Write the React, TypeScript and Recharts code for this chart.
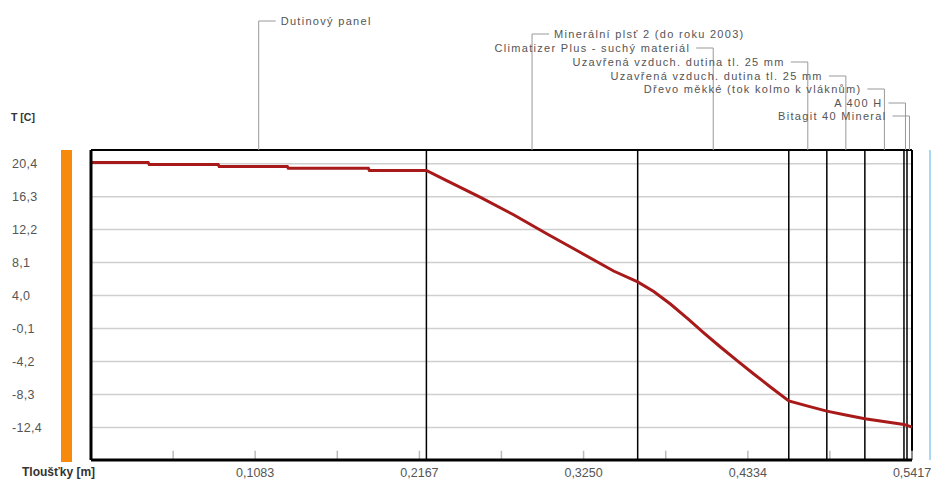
import React from "react";
import {
  CartesianGrid,
  Line,
  LineChart,
  ReferenceLine,
  XAxis,
  YAxis
} from "recharts";

// temperature profile through the wall: thickness [m] -> T [C]
const thickness = [
  0, 0.0377, 0.0384, 0.0839, 0.0846, 0.1295, 0.1302, 0.183, 0.1837, 0.2213,
  0.235, 0.257, 0.2788, 0.301, 0.323, 0.3448, 0.3607,
  0.3713, 0.3825, 0.3937, 0.4043, 0.4155, 0.4267, 0.4373, 0.4485, 0.4604,
  0.473, 0.4855, 0.498, 0.5106, 0.5364, 0.5384, 0.5417
];
const temperature = [
  20.56, 20.56, 20.31, 20.31, 20.06, 20.06, 19.82, 19.82, 19.55, 19.55,
  18.25, 16.2, 14.05, 11.65, 9.35, 7.05, 5.7,
  4.51, 2.92, 1.12, -0.63, -2.43, -4.16, -5.75, -7.4, -9.1,
  -9.75, -10.37, -10.85, -11.32, -12.03, -12.15, -12.36
];

// layers of the construction and their boundaries
const layerNames = [
  "Dutinový panel",
  "Minerální plsť 2 (do roku 2003)",
  "Climatizer Plus - suchý materiál",
  "Uzavřená vzduch. dutina tl. 25 mm",
  "Uzavřená vzduch. dutina tl. 25 mm",
  "Dřevo měkké (tok kolmo k vláknům)",
  "A 400 H",
  "Bitagit 40 Mineral"
];
const layerBounds = [0, 0.2213, 0.3607, 0.4604, 0.4855, 0.5106, 0.5364, 0.5384, 0.5417];

const yTicks = [20.4, 16.3, 12.2, 8.1, 4.0, -0.1, -4.2, -8.3, -12.4];
const xTicks = [0.0542, 0.1083, 0.1625, 0.2167, 0.2708, 0.325, 0.3792, 0.4334, 0.4875, 0.5417];
const xLabelled = [0.1083, 0.2167, 0.325, 0.4334, 0.5417];

const Y_MIN = -16.45;
const Y_MAX = 22.1;
const X_MAX = 0.5417;

// where each layer caption sits above the plot
const labelRows = [21, 34, 48, 62, 76, 89, 103, 116];
const labelSides = ["right", "right", "left", "left", "left", "left", "left", "left"];

const FONT = "'Liberation Sans', Arial, sans-serif";

const data = thickness.map((x, i) => ({ x, t: temperature[i] }));

const comma = (v: number, d: number) => v.toFixed(d).replace(".", ",");

const YTick = (props: any) => {
  const { y, payload } = props;
  return (
    <text x={12} y={y} dy="0.35em" textAnchor="start" fill="#555" fontSize={12.5} letterSpacing={0.3} fontFamily={FONT}>
      {comma(payload.value, 1)}
    </text>
  );
};

const layerLabel = (index: number) => (props: any) => {
  const vb = props.viewBox || {};
  const x = vb.x;
  const y = vb.y;
  const ly = labelRows[index];
  const right = labelSides[index] === "right";
  const hx = right ? x + 17 : x - 17;
  return (
    <g>
      <path d={`M${x},${y} V${ly} H${hx}`} stroke="#999" strokeWidth={1} fill="none" />
      <text
        x={right ? hx + 5 : hx - 6}
        y={ly}
        dy="0.35em"
        textAnchor={right ? "start" : "end"}
        fill="#555"
        fontSize={11}
        letterSpacing={1.3}
        fontFamily={FONT}
      >
        {layerNames[index]}
      </text>
    </g>
  );
};

export default function App() {
  const mids = layerNames.map((_, i) => (layerBounds[i] + layerBounds[i + 1]) / 2);
  return (
    <div style={{ position: "absolute", left: 0, top: 0, width: 931, height: 482, background: "#fff", fontFamily: FONT }}>
      <div style={{ position: "absolute", left: 61, top: 150, width: 11, height: 312, background: "#f7890c" }} />
      <div style={{ position: "absolute", left: 929, top: 150, width: 3, height: 310, background: "#a9d8f5" }} />
      <div style={{ position: "absolute", left: 11, top: 111, fontSize: 10.5, fontWeight: "bold", color: "#333" }}>T [C]</div>
      <div style={{ position: "absolute", left: 22, top: 465, fontSize: 12, fontWeight: "bold", color: "#333" }}>Tloušťky [m]</div>
      <LineChart
        width={931}
        height={482}
        data={data}
        margin={{ top: 150, right: 19, bottom: 0, left: 0 }}
      >
        <CartesianGrid horizontal vertical={false} stroke="#cfcfcf" strokeWidth={1.5} />
        <XAxis
          dataKey="x"
          type="number"
          domain={[0, X_MAX]}
          ticks={xTicks}
          height={22}
          tickLine={false}
          axisLine={{ stroke: "#000", strokeWidth: 3 }}
          tick={{ fill: "#555", fontSize: 12.5, fontFamily: FONT }}
          tickFormatter={(v: number) => (xLabelled.includes(v) ? comma(v, 4) : "")}
          interval={0}
        />
        <YAxis
          type="number"
          domain={[Y_MIN, Y_MAX]}
          ticks={yTicks}
          width={91}
          tickLine={false}
          axisLine={{ stroke: "#000", strokeWidth: 3 }}
          tick={<YTick />}
          interval={0}
        />
        <ReferenceLine y={Y_MAX} stroke="#000" strokeWidth={2} />
        <ReferenceLine x={X_MAX} stroke="#000" strokeWidth={2} />
        {xTicks.map((t) => (
          <ReferenceLine
            key={"tk" + t}
            segment={[{ x: t, y: Y_MIN }, { x: t, y: Y_MIN + 1.15 }]}
            stroke="#bbb"
            strokeWidth={1.5}
          />
        ))}
        {layerBounds.slice(1, -1).map((b) => (
          <ReferenceLine key={"b" + b} x={b} stroke="#000" strokeWidth={1.5} />
        ))}
        {mids.map((m, i) => (
          <ReferenceLine key={"m" + i} x={m} stroke="none" label={layerLabel(i)} />
        ))}
        <Line
          type="linear"
          dataKey="t"
          stroke="#a81a1a"
          strokeWidth={3}
          dot={false}
          activeDot={false}
          isAnimationActive={false}
        />
      </LineChart>
    </div>
  );
}
